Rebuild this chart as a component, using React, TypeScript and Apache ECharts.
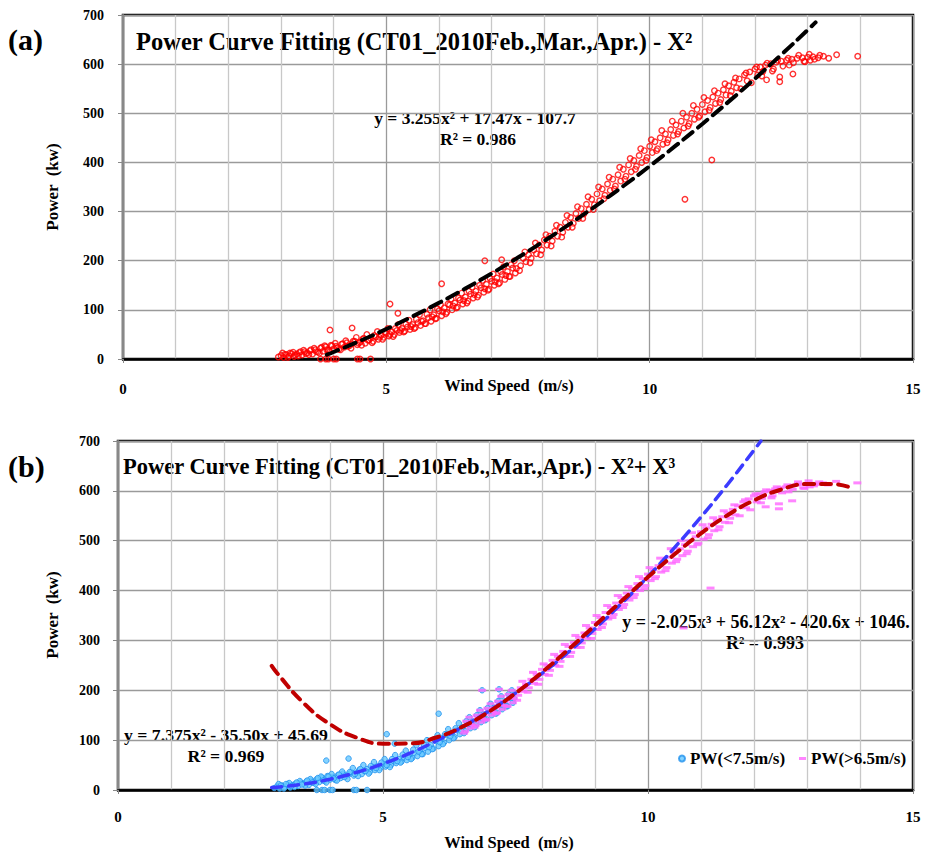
import React, { useEffect, useRef } from "react";
import * as echarts from "echarts";

const FONT = '"Liberation Serif", "Times New Roman", serif';

const measured: number[][] = [
  [2.95, 4], [3.0, 7], [3.05, 3], [3.1, 9], [3.15, 6], [3.2, 11], [3.25, 5], [3.3, 10], [3.35, 13], [3.4, 8],
  [3.45, 15], [3.5, 12], [3.55, 17], [3.6, 10], [3.65, 19], [3.7, 14], [3.75, 22], [3.8, 16], [3.85, 25], [3.9, 18],
  [3.95, 28], [4.0, 21], [4.05, 26], [4.1, 20], [4.15, 30], [4.2, 24], [4.25, 33], [4.3, 27], [4.35, 31], [4.4, 36],
  [4.45, 29], [4.5, 34], [4.55, 40], [4.6, 32], [4.65, 38], [4.7, 42], [4.75, 36], [4.8, 45], [4.85, 40], [4.9, 48],
  [4.95, 44], [5.0, 52], [5.05, 47], [5.1, 55], [5.15, 50], [5.2, 58], [5.25, 54], [5.3, 62], [5.35, 57], [5.4, 65],
  [5.45, 60], [5.5, 70], [5.55, 64], [5.6, 74], [5.65, 68], [5.7, 78], [5.75, 72], [5.8, 84], [5.85, 77], [5.9, 90],
  [5.95, 83], [6.0, 98], [6.05, 88], [6.1, 104], [6.15, 95], [6.2, 110], [6.25, 100], [6.3, 114], [6.35, 106], [6.4, 120],
  [6.45, 112], [6.5, 126], [6.55, 118], [6.6, 132], [6.65, 124], [6.7, 138], [6.75, 130], [6.8, 145], [6.85, 136], [6.9, 152],
  [6.95, 142], [7.0, 158], [7.05, 150], [7.1, 165], [7.15, 155], [7.2, 172], [7.25, 162], [7.3, 178], [7.35, 168], [7.4, 185],
  [7.45, 175], [7.55, 190], [7.6, 205], [7.65, 198], [7.7, 212], [7.75, 205], [7.8, 222], [7.85, 214], [7.9, 232], [7.95, 222],
  [8.0, 242], [8.05, 232], [8.1, 250], [8.15, 240], [8.2, 260], [8.25, 250], [8.3, 268], [8.35, 258], [8.4, 278], [8.45, 268],
  [8.5, 288], [8.55, 276], [8.6, 296], [8.65, 286], [8.7, 306], [8.75, 295], [8.8, 315], [8.85, 304], [8.9, 325], [8.95, 314],
  [9.0, 336], [9.05, 322], [9.1, 346], [9.15, 333], [9.2, 356], [9.25, 343], [9.3, 366], [9.35, 352], [9.4, 375], [9.45, 362],
  [9.5, 386], [9.55, 372], [9.6, 395], [9.65, 381], [9.7, 404], [9.75, 392], [9.8, 414], [9.85, 400], [9.9, 424], [9.95, 410],
  [10.0, 433], [10.05, 420], [10.1, 442], [10.15, 428], [10.2, 450], [10.25, 437], [10.3, 458], [10.35, 446], [10.4, 467], [10.45, 455],
  [10.5, 476], [10.55, 463], [10.6, 484], [10.65, 470], [10.7, 492], [10.75, 479], [10.8, 500], [10.85, 488], [10.9, 508], [10.95, 495],
  [11.0, 518], [11.05, 503], [11.1, 526], [11.15, 512], [11.2, 533], [11.25, 520], [11.3, 541], [11.35, 528], [11.4, 548], [11.45, 537],
  [11.5, 556], [11.55, 545], [11.6, 563], [11.65, 552], [11.7, 570], [11.8, 578], [11.85, 566], [11.9, 584], [12.0, 590], [12.05, 578],
  [12.1, 594], [12.15, 585], [12.2, 598], [12.3, 601], [12.35, 590], [12.4, 604], [12.5, 606], [12.6, 608], [12.65, 598], [12.7, 610],
  [12.8, 612], [12.9, 613], [12.95, 605], [13.0, 614], [13.05, 608], [13.1, 615], [13.2, 613], [13.3, 616], [13.55, 619], [13.95, 616],
  // outliers and zero-power records
  [3.93, 59], [4.35, 63], [5.07, 112], [5.22, 93], [6.05, 153], [6.87, 200], [7.19, 202],
  [10.67, 325], [11.18, 405], [12.22, 568], [12.47, 574], [12.72, 580], [12.47, 564],
  [3.75, 0], [3.85, 0], [3.9, 0], [4.0, 0], [4.05, 0], [4.45, 0], [4.5, 0], [4.7, 0],
];

// More records from the same period (the thick part of the band)
const measuredMore: number[][] = [
  [3.03, 12], [3.13, 3], [3.23, 14], [3.33, 6], [3.43, 18], [3.53, 9], [3.63, 22], [3.73, 12], [3.83, 27], [3.93, 15],
  [4.03, 32], [4.13, 19], [4.23, 37], [4.33, 22], [4.43, 44], [4.53, 28], [4.63, 50], [4.73, 33], [4.83, 56], [4.93, 40],
  [5.03, 62], [5.13, 46], [5.23, 70], [5.33, 55], [5.43, 79], [5.53, 62], [5.63, 90], [5.73, 72], [5.83, 100], [5.93, 82],
  [6.03, 110], [6.13, 92], [6.23, 122], [6.33, 104], [6.43, 134], [6.53, 114], [6.63, 146], [6.73, 126], [6.83, 160], [6.93, 140],
  [7.03, 173], [7.13, 153], [7.23, 188], [7.33, 168], [7.43, 200], [7.53, 180], [7.63, 218], [7.73, 196], [7.83, 236], [7.93, 212],
  [8.03, 253], [8.13, 230], [8.23, 272], [8.33, 248], [8.43, 292], [8.53, 268], [8.63, 310], [8.73, 286], [8.83, 330], [8.93, 304],
  [9.03, 350], [9.13, 326], [9.23, 370], [9.33, 346], [9.43, 390], [9.53, 366], [9.63, 408], [9.73, 386], [9.83, 428], [9.93, 404],
  [10.03, 446], [10.13, 424], [10.23, 465], [10.33, 440], [10.43, 484], [10.53, 458], [10.63, 500], [10.73, 474], [10.83, 516], [10.93, 492],
  [11.03, 532], [11.13, 506], [11.23, 546], [11.33, 522], [11.43, 560], [11.53, 536], [11.63, 572], [11.73, 550], [11.83, 582], [11.93, 562],
  [12.03, 594], [12.13, 576], [12.23, 602], [12.33, 586], [12.43, 608], [12.53, 596], [12.63, 612], [12.73, 603], [12.83, 618], [12.93, 606],
  [13.03, 620], [13.13, 610], [13.23, 618], [13.4, 612],
  [3.07, 9], [3.17, 12], [3.27, 8], [3.37, 15], [3.47, 11], [3.57, 19], [3.67, 15], [3.77, 24], [3.87, 19], [3.97, 27],
  [4.07, 23], [4.17, 31], [4.27, 26], [4.37, 36], [4.47, 32], [4.57, 42], [4.67, 38], [4.77, 48], [4.87, 44], [4.97, 55],
  [5.07, 50], [5.17, 62], [5.27, 58], [5.37, 71], [5.47, 66], [5.57, 81], [5.67, 77], [5.77, 91], [5.87, 86], [5.97, 102],
  [6.07, 96], [6.17, 112], [6.27, 108], [6.37, 124], [6.47, 119], [6.57, 138], [6.67, 131], [6.77, 150], [6.87, 143], [6.97, 164],
  [7.07, 157], [7.17, 178], [7.27, 170], [7.37, 192], [7.47, 184],
];

// Trendline readings
const fitX2: number[][] = [
  [3.87, 8.7], [4, 14.3], [4.5, 36.8], [5, 61.0], [5.5, 86.9], [6, 114.3], [6.5, 143.4], [7, 174.1], [7.5, 206.4],
  [8, 240.4], [8.5, 276.0], [9, 313.2], [9.5, 352.0], [10, 392.5], [10.5, 434.6], [11, 478.3], [11.5, 523.7],
  [12, 570.7], [12.5, 619.3], [13, 669.5], [13.15, 685],
];
const fitLowX2: number[][] = [
  [2.9, 4.8], [3, 5.6], [3.5, 11.8], [4, 21.7], [4.5, 35.3], [5, 52.6], [5.5, 73.5], [6, 98.2], [6.5, 126.5],
  [7, 158.6], [7.5, 194.3], [8, 233.7], [8.5, 276.8], [9, 323.6], [9.5, 374.0], [10, 428.2], [10.5, 486.0],
  [11, 547.6], [11.5, 612.8], [12, 681.7], [12.13, 700],
];
const fitHighX3: number[][] = [
  [2.9, 248.8], [3, 234.6], [3.5, 174.6], [4, 131.9], [4.5, 105.2], [5, 92.9], [5.5, 93.4], [6, 105.3], [6.5, 127.1],
  [7, 157.1], [7.5, 194.0], [8, 236.1], [8.5, 282.0], [9, 330.1], [9.5, 379.0], [10, 427.0], [10.5, 472.7],
  [11, 514.7], [11.5, 551.2], [12, 580.9], [12.5, 602.2], [13, 613.6], [13.5, 613.5], [13.8, 607.4],
];

const xTicks = { min: 0, max: 15, interval: 5 };
const yTicks = { min: 0, max: 700, interval: 100 };

const allRecords = measured.concat(measuredMore);
const lowSeries = allRecords.filter((p) => p[0] < 7.5);
const highSeries = allRecords.filter((p) => p[0] > 6.5);

function xAxisCfg(gridIndex: number, margin: number) {
  return {
    type: "value",
    gridIndex,
    ...xTicks,
    axisLine: { show: true, onZero: false, lineStyle: { color: "#000", width: 2.5 } },
    axisTick: { show: true, length: 4, lineStyle: { color: "#888", width: 1 } },
    axisLabel: { margin, color: "#000", fontFamily: FONT, fontWeight: "bold", fontSize: 15 },
    splitLine: { show: true, lineStyle: { color: "#9a9a9a", width: 1.3 } },
    minorTick: { show: false, splitNumber: 5 },
    minorSplitLine: { show: true, lineStyle: { color: "#c8c8c8", width: 1.3 } },
  };
}
function yAxisCfg(gridIndex: number, margin: number) {
  return {
    type: "value",
    gridIndex,
    ...yTicks,
    axisLine: { show: true, onZero: false, lineStyle: { color: "#888", width: 2 } },
    axisTick: { show: true, length: 5, lineStyle: { color: "#888", width: 1 } },
    axisLabel: { margin, color: "#000", fontFamily: FONT, fontWeight: "bold", fontSize: 14 },
    splitLine: { show: true, lineStyle: { color: "#9a9a9a", width: 1.3 } },
  };
}

function txt(text: string, x: number, y: number, size: number, align = "left", extra: any = {}) {
  return {
    type: "text",
    x,
    y,
    ...extra,
    style: {
      text,
      fill: "#000",
      font: `bold ${size}px ${FONT}`,
      textAlign: align,
      textVerticalAlign: "middle",
    },
  };
}

const legendText = { fontFamily: FONT, fontWeight: "bold", fontSize: 17, color: "#000" };

export default function App() {
  const ref = useRef<HTMLDivElement>(null);
  useEffect(() => {
    if (!ref.current) return;
    const chart = echarts.init(ref.current, undefined, { renderer: "svg" });
    chart.setOption({
      animation: false,
      backgroundColor: "#fff",
      grid: [
        { left: 123, top: 15, width: 790, height: 344, show: true, borderColor: "#000", borderWidth: 2.5 },
        { left: 118, top: 441, width: 795, height: 349, show: true, borderColor: "#000", borderWidth: 2.5 },
      ],
      xAxis: [xAxisCfg(0, 22), xAxisCfg(1, 19)],
      yAxis: [yAxisCfg(0, 19), yAxisCfg(1, 18)],
      legend: [
        {
          data: [{ name: "PW(<7.5m/s)", icon: "circle" }],
          left: 673,
          top: 745,
          itemWidth: 6,
          itemHeight: 6,
          textStyle: legendText,
        },
        {
          data: [{ name: "PW(>6.5m/s)", icon: "rect" }],
          left: 794,
          top: 745,
          itemWidth: 7,
          itemHeight: 3,
          textStyle: legendText,
        },
      ],
      series: [
        {
          name: "PW",
          type: "scatter",
          xAxisIndex: 0,
          yAxisIndex: 0,
          data: allRecords,
          symbol: "circle",
          symbolSize: 5.5,
          itemStyle: { color: "rgba(255,255,255,0)", borderColor: "#ff0000", borderWidth: 1.4 },
        },
        {
          name: "Poly. (PW) X2",
          type: "line",
          xAxisIndex: 0,
          yAxisIndex: 0,
          data: fitX2,
          smooth: true,
          showSymbol: false,
          lineStyle: { color: "#000", width: 4, type: [12, 7], cap: "round" },
        },
        {
          name: "PW(<7.5m/s)",
          type: "scatter",
          xAxisIndex: 1,
          yAxisIndex: 1,
          data: lowSeries,
          symbol: "circle",
          symbolSize: 5.5,
          itemStyle: { color: "#66c8ff", borderColor: "#1e90ee", borderWidth: 1 },
        },
        {
          name: "PW(>6.5m/s)",
          type: "scatter",
          xAxisIndex: 1,
          yAxisIndex: 1,
          data: highSeries,
          symbol: "rect",
          symbolSize: [8, 3],
          itemStyle: { color: "#ff66ff" },
        },
        {
          name: "Poly. (PW(<7.5m/s))",
          type: "line",
          xAxisIndex: 1,
          yAxisIndex: 1,
          data: fitLowX2,
          smooth: true,
          showSymbol: false,
          lineStyle: { color: "#3b3bff", width: 3.5, type: [10, 7], cap: "round" },
        },
        {
          name: "Poly. (PW(>6.5m/s))",
          type: "line",
          xAxisIndex: 1,
          yAxisIndex: 1,
          data: fitHighX3,
          smooth: true,
          showSymbol: false,
          lineStyle: { color: "#c00000", width: 4, type: [10, 7], cap: "round" },
        },
      ],
      graphic: [
        txt("(a)", 8, 39, 30),
        txt("(b)", 8, 466, 30),
        txt("Power Curve Fitting (CT01_2010Feb.,Mar.,Apr.) - X²", 136, 41, 24.5),
        txt("Power Curve Fitting (CT01_2010Feb.,Mar.,Apr.) - X²+ X³", 123, 466, 22.5),
        txt("y = 3.255x² + 17.47x - 107.7", 475, 118, 17.5, "center"),
        txt("R² = 0.986", 478, 139, 17.5, "center"),
        txt("y = -2.025x³ + 56.12x² - 420.6x + 1046.", 766, 622, 18, "center"),
        txt("R² = 0.993", 765, 643, 18, "center"),
        txt("y = 7.375x² - 35.50x + 45.69", 226, 735, 17.7, "center"),
        txt("R² = 0.969", 226, 756, 17.7, "center"),
        txt("Wind Speed  (m/s)", 509, 385, 16.5, "center"),
        txt("Wind Speed  (m/s)", 509, 842, 16.5, "center"),
        txt("Power  (kw)", 52, 187, 17, "center", { rotation: Math.PI / 2 }),
        txt("Power  (kw)", 52, 615, 17, "center", { rotation: Math.PI / 2 }),
      ],
    });
    return () => chart.dispose();
  }, []);
  return (
    <div
      ref={ref}
      style={{ position: "fixed", left: 0, top: 0, width: 926, height: 855, background: "#fff" }}
    />
  );
}
